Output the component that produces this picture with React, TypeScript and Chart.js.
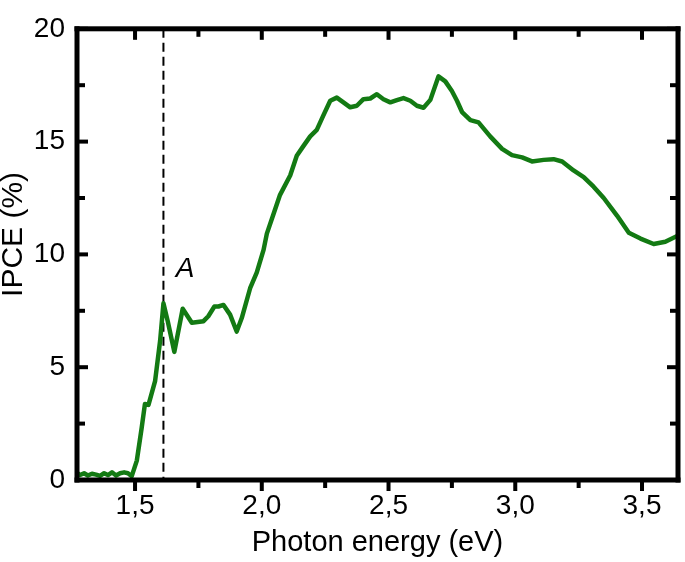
import React, { useEffect, useRef } from "react";
import { Chart, registerables } from "chart.js";

Chart.register(...registerables);

// Photon energy (eV) and IPCE (%)
const photonEnergy = [
  1.271, 1.283, 1.299, 1.314, 1.33, 1.346, 1.362, 1.378, 1.393, 1.409, 1.425, 1.441, 1.457, 1.472, 1.487,
  1.507, 1.526, 1.539, 1.553, 1.579, 1.599, 1.612, 1.629, 1.655, 1.688, 1.724, 1.77, 1.789, 1.813, 1.829,
  1.849, 1.875, 1.901, 1.921, 1.954, 1.98, 2.007, 2.02, 2.046, 2.072, 2.112, 2.138, 2.164, 2.191, 2.217,
  2.243, 2.27, 2.296, 2.322, 2.349, 2.375, 2.401, 2.428, 2.454, 2.48, 2.507, 2.533, 2.559, 2.586, 2.612,
  2.638, 2.665, 2.697, 2.724, 2.75, 2.77, 2.79, 2.823, 2.855, 2.901, 2.948, 2.987, 3.027, 3.066, 3.112,
  3.151, 3.185, 3.23, 3.27, 3.309, 3.349, 3.402, 3.448, 3.494, 3.546, 3.592, 3.645,
];
const ipce = [
  0.32, 0.22, 0.3, 0.2, 0.28, 0.24, 0.18, 0.3, 0.22, 0.34, 0.2, 0.3, 0.34, 0.3, 0.17,
  0.86, 2.3, 3.37, 3.33, 4.38, 6.18, 7.83, 7.04, 5.68, 7.59, 6.97, 7.04, 7.26, 7.69, 7.69,
  7.76, 7.33, 6.58, 7.18, 8.5, 9.19, 10.2, 10.92, 11.78, 12.64, 13.5, 14.37, 14.8, 15.23, 15.52,
  16.16, 16.81, 16.95, 16.74, 16.52, 16.59, 16.88, 16.91, 17.1, 16.88, 16.74, 16.84, 16.93, 16.81, 16.59,
  16.5, 16.85, 17.89, 17.67, 17.24, 16.81, 16.31, 15.95, 15.85, 15.23, 14.68, 14.4, 14.3, 14.12, 14.19,
  14.22, 14.12, 13.72, 13.43, 13.0, 12.5, 11.71, 10.96, 10.7, 10.46, 10.56, 10.85,
];

const xMajorTicks = [1.5, 2.0, 2.5, 3.0, 3.5];
const xMinorTicks = [1.75, 2.25, 2.75, 3.25];
const yMajorTicks = [0, 5, 10, 15, 20];
const yMinorTicks = [2.5, 7.5, 12.5, 17.5];

const xMin = 1.271;
const xMax = 3.642;
const yMin = 0;
const yMax = 20;

const xTitle = "Photon energy (eV)";
const yTitle = "IPCE (%)";

const markerEnergy = 1.612;
const markerLabel = "A";
const markerLabelPos = { x: 1.697, y: 9.35 };

const FONT = "'Liberation Sans', Arial, sans-serif";
const GREEN = "#137a13";

const framePlugin = {
  id: "frameAndTicks",
  beforeDatasetsDraw(chart: any) {
    const { ctx, chartArea, scales } = chart;
    const xs = scales.x;
    const ys = scales.y;
    ctx.save();
    const mx = xs.getPixelForValue(markerEnergy);
    ctx.strokeStyle = "#000";
    ctx.lineWidth = 2;
    ctx.setLineDash([9, 5]);
    ctx.beginPath();
    ctx.moveTo(mx, chartArea.top);
    ctx.lineTo(mx, chartArea.bottom);
    ctx.stroke();
    ctx.setLineDash([]);
    ctx.fillStyle = "#000";
    ctx.font = `italic 28px ${FONT}`;
    ctx.textAlign = "center";
    ctx.textBaseline = "middle";
    ctx.fillText(markerLabel, xs.getPixelForValue(markerLabelPos.x), ys.getPixelForValue(markerLabelPos.y));
    ctx.restore();
  },
  afterDraw(chart: any) {
    const { ctx, chartArea, scales } = chart;
    const xs = scales.x;
    const ys = scales.y;
    const { left, right, top, bottom } = chartArea;
    ctx.save();
    ctx.setLineDash([]);
    ctx.fillStyle = "#000";
    const w = 5;
    ctx.fillRect(left - w / 2, top - w / 2, right - left + w, w);
    ctx.fillRect(left - w / 2, bottom - w / 2, right - left + w, w);
    ctx.fillRect(left - w / 2, top - w / 2, w, bottom - top + w);
    ctx.fillRect(right - w / 2, top - w / 2, w, bottom - top + w);
    const tw = 4;
    const major = 11;
    const minor = 8;
    const drawX = (vals: number[], len: number) => {
      for (const v of vals) {
        const px = xs.getPixelForValue(v);
        ctx.fillRect(px - tw / 2, bottom, tw, len);
        ctx.fillRect(px - tw / 2, top, tw, len);
      }
    };
    const drawY = (vals: number[], len: number) => {
      for (const v of vals) {
        const py = ys.getPixelForValue(v);
        ctx.fillRect(left, py - tw / 2, len, tw);
        ctx.fillRect(right - len, py - tw / 2, len, tw);
      }
    };
    drawX(xMajorTicks, major);
    drawX(xMinorTicks, minor);
    drawY(yMajorTicks, major);
    drawY(yMinorTicks, minor);
    ctx.font = `30px ${FONT}`;
    ctx.textAlign = "center";
    ctx.textBaseline = "middle";
    ctx.translate(14, (top + bottom) / 2 - 20);
    ctx.rotate(-Math.PI / 2);
    ctx.fillText(yTitle, 0, 0);
    ctx.restore();
  },
};

export default function App() {
  const ref = useRef<HTMLCanvasElement | null>(null);

  useEffect(() => {
    document.body.style.margin = "0";
    if (!ref.current) return;
    const chart = new Chart(ref.current, {
      type: "line",
      data: {
        datasets: [
          {
            data: photonEnergy.map((x, i) => ({ x, y: ipce[i] })),
            borderColor: GREEN,
            borderWidth: 4.5,
            pointRadius: 0,
            tension: 0,
            borderJoinStyle: "round",
            borderCapStyle: "round",
            fill: false,
          },
        ],
      },
      options: {
        animation: false,
        responsive: true,
        maintainAspectRatio: false,
        layout: { padding: { top: 16, right: 7, left: 0, bottom: 0 } },
        plugins: { legend: { display: false }, tooltip: { enabled: false } },
        scales: {
          x: {
            type: "linear",
            min: xMin,
            max: xMax,
            grid: { display: false, drawTicks: false },
            border: { display: false },
            afterBuildTicks: (scale: any) => {
              scale.ticks = xMajorTicks.map((v) => ({ value: v }));
            },
            afterFit: (scale: any) => {
              scale.height = 82;
            },
            ticks: {
              padding: 9,
              color: "#000",
              font: { family: FONT, size: 28 },
              maxRotation: 0,
              autoSkip: false,
              callback: (v: any) => Number(v).toFixed(1).replace(".", ","),
            },
            title: {
              display: true,
              text: xTitle,
              color: "#000",
              font: { family: FONT, size: 29, lineHeight: 1.2 },
              padding: { top: 0, bottom: 2 },
            },
          },
          y: {
            type: "linear",
            min: yMin,
            max: yMax,
            grid: { display: false, drawTicks: false },
            border: { display: false },
            afterBuildTicks: (scale: any) => {
              scale.ticks = yMajorTicks.map((v) => ({ value: v }));
            },
            afterFit: (scale: any) => {
              scale.width = 77;
            },
            ticks: {
              padding: 12,
              color: "#000",
              font: { family: FONT, size: 28 },
              callback: (v: any) => String(v),
            },
          },
        },
      },
      plugins: [framePlugin],
    });
    return () => chart.destroy();
  }, []);

  return (
    <div style={{ position: "fixed", left: 0, top: 0, width: 685, height: 562 }}>
      <canvas ref={ref} />
    </div>
  );
}
